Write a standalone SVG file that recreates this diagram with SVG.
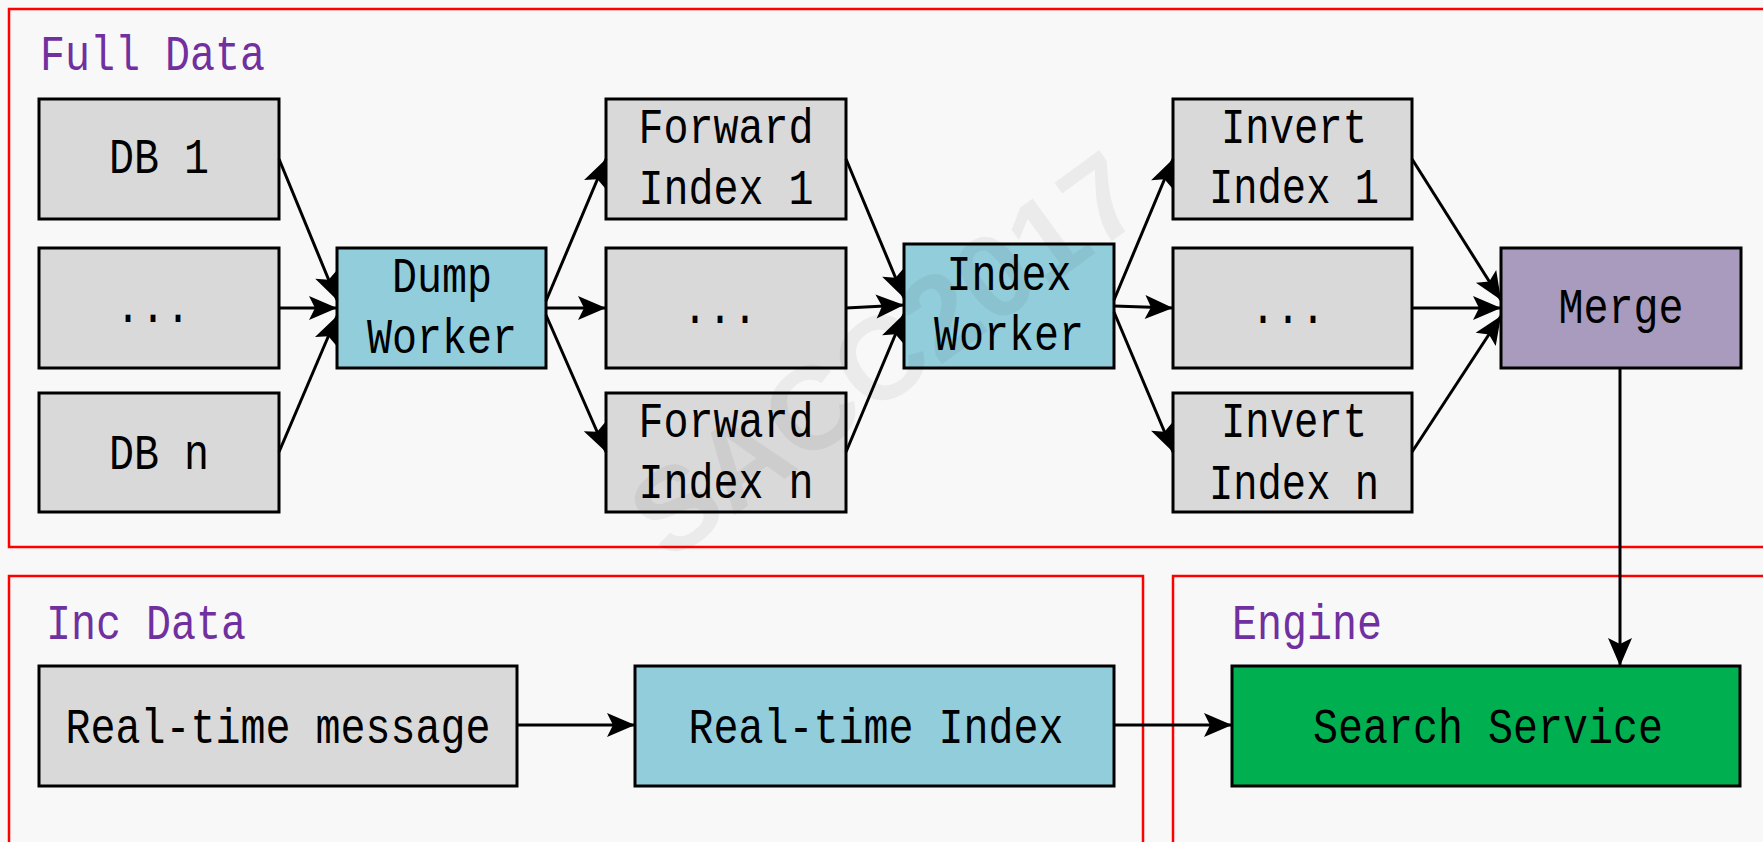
<svg xmlns="http://www.w3.org/2000/svg" width="1763" height="842" viewBox="0 0 1763 842">
<style>
.frame{fill:none;stroke:#ff0000;stroke-width:2.5}
.box{stroke:#000;stroke-width:3}
.gray{fill:#d9d9d9}
.blue{fill:#92cddc}
.purple{fill:#a99bbd}
.green{fill:#00b050}
.t{font-family:"Liberation Mono",monospace;font-size:50px;fill:#000;text-anchor:middle}
.lbl{font-family:"Liberation Mono",monospace;font-size:50px;fill:#7030a0}
.conn line{stroke:#000;stroke-width:3;marker-end:url(#arr)}
</style>
<defs>
<marker id="arr" markerUnits="userSpaceOnUse" markerWidth="30" markerHeight="26" refX="28" refY="12" orient="auto" overflow="visible">
<path d="M0,0 L28,12 L0,24 L6,12 Z" fill="#000"/>
</marker>
</defs>
<rect x="0" y="0" width="1763" height="842" fill="#f8f8f8"/>
<g id="frames">
<rect class="frame" x="9" y="9" width="1790" height="538"/>
<rect class="frame" x="9" y="576" width="1134" height="300"/>
<rect class="frame" x="1173" y="576" width="700" height="300"/>
<text class="lbl" x="40" y="70" textLength="225" lengthAdjust="spacingAndGlyphs">Full Data</text>
<text class="lbl" x="46" y="639" textLength="200" lengthAdjust="spacingAndGlyphs">Inc Data</text>
<text class="lbl" x="1232" y="639" textLength="150" lengthAdjust="spacingAndGlyphs">Engine</text>
</g>
<g id="db1"><rect class="box gray" x="39" y="99" width="240" height="120"/><text class="t" x="159" y="173" textLength="100" lengthAdjust="spacingAndGlyphs">DB 1</text></g>
<g id="dbdots"><rect class="box gray" x="39" y="248" width="240" height="120"/><text class="t" x="153" y="322" textLength="75" lengthAdjust="spacingAndGlyphs">...</text></g>
<g id="dbn"><rect class="box gray" x="39" y="393" width="240" height="119"/><text class="t" x="159" y="469" textLength="100" lengthAdjust="spacingAndGlyphs">DB n</text></g>
<g id="dump"><rect class="box blue" x="337" y="248" width="209" height="120"/><text class="t" x="442" y="292" textLength="100" lengthAdjust="spacingAndGlyphs">Dump</text><text class="t" x="442" y="353" textLength="150" lengthAdjust="spacingAndGlyphs">Worker</text></g>
<g id="fwd1"><rect class="box gray" x="606" y="99" width="240" height="120"/><text class="t" x="726" y="143" textLength="175" lengthAdjust="spacingAndGlyphs">Forward</text><text class="t" x="726" y="204" textLength="175" lengthAdjust="spacingAndGlyphs">Index 1</text></g>
<g id="fwddots"><rect class="box gray" x="606" y="248" width="240" height="120"/><text class="t" x="720" y="323" textLength="75" lengthAdjust="spacingAndGlyphs">...</text></g>
<g id="fwdn"><rect class="box gray" x="606" y="393" width="240" height="119"/><text class="t" x="726" y="437" textLength="175" lengthAdjust="spacingAndGlyphs">Forward</text><text class="t" x="726" y="498" textLength="175" lengthAdjust="spacingAndGlyphs">Index n</text></g>
<g id="indexworker"><rect class="box blue" x="904" y="244" width="210" height="124"/><text class="t" x="1009" y="290" textLength="125" lengthAdjust="spacingAndGlyphs">Index</text><text class="t" x="1009" y="350" textLength="150" lengthAdjust="spacingAndGlyphs">Worker</text></g>
<g id="inv1"><rect class="box gray" x="1173" y="99" width="239" height="120"/><text class="t" x="1294" y="143" textLength="146" lengthAdjust="spacingAndGlyphs">Invert</text><text class="t" x="1294" y="203" textLength="170" lengthAdjust="spacingAndGlyphs">Index 1</text></g>
<g id="invdots"><rect class="box gray" x="1173" y="248" width="239" height="120"/><text class="t" x="1288" y="323" textLength="75" lengthAdjust="spacingAndGlyphs">...</text></g>
<g id="invn"><rect class="box gray" x="1173" y="393" width="239" height="119"/><text class="t" x="1294" y="437" textLength="146" lengthAdjust="spacingAndGlyphs">Invert</text><text class="t" x="1294" y="499" textLength="170" lengthAdjust="spacingAndGlyphs">Index n</text></g>
<g id="merge"><rect class="box purple" x="1501" y="248" width="240" height="120"/><text class="t" x="1621" y="323" textLength="125" lengthAdjust="spacingAndGlyphs">Merge</text></g>
<g id="rtmsg"><rect class="box gray" x="39" y="666" width="478" height="120"/><text class="t" x="278" y="743" textLength="425" lengthAdjust="spacingAndGlyphs">Real-time message</text></g>
<g id="rtindex"><rect class="box blue" x="635" y="666" width="479" height="120"/><text class="t" x="876" y="743" textLength="375" lengthAdjust="spacingAndGlyphs">Real-time Index</text></g>
<g id="search"><rect class="box green" x="1232" y="666" width="508" height="120"/><text class="t" x="1488" y="743" textLength="350" lengthAdjust="spacingAndGlyphs">Search Service</text></g>
<g id="connectors" class="conn">
<line x1="279" y1="159" x2="337" y2="300"/>
<line x1="279" y1="308" x2="337" y2="308"/>
<line x1="279" y1="452" x2="337" y2="316"/>
<line x1="546" y1="301" x2="606" y2="159"/>
<line x1="546" y1="308" x2="606" y2="308"/>
<line x1="546" y1="315" x2="606" y2="452"/>
<line x1="846" y1="159" x2="904" y2="298"/>
<line x1="846" y1="308" x2="904" y2="305"/>
<line x1="846" y1="452" x2="904" y2="314"/>
<line x1="1114" y1="300" x2="1173" y2="159"/>
<line x1="1114" y1="306" x2="1173" y2="308"/>
<line x1="1114" y1="312" x2="1173" y2="452"/>
<line x1="1412" y1="159" x2="1501" y2="300"/>
<line x1="1412" y1="308" x2="1501" y2="308"/>
<line x1="1412" y1="452" x2="1501" y2="316"/>
<line x1="1620" y1="368" x2="1620" y2="666"/>
<line x1="517" y1="725" x2="635" y2="725"/>
<line x1="1114" y1="725" x2="1232" y2="725"/>
</g>
<text x="885" y="354" transform="rotate(-36 885 354)" dy="42" text-anchor="middle" font-family="Liberation Sans, sans-serif" font-weight="bold" font-size="118" fill="#000" fill-opacity="0.05">SACC2017</text>
</svg>
